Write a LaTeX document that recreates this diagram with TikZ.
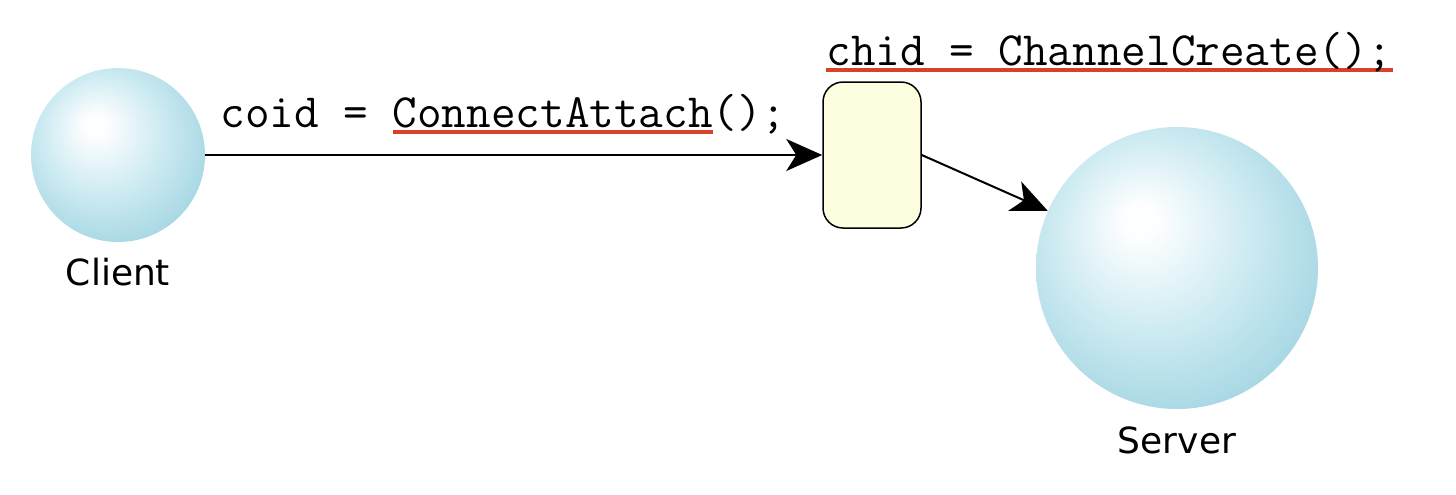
\documentclass[tikz,border=0pt]{standalone}
\usepackage{fontspec}
\setmainfont{DejaVu Sans}
\usetikzlibrary{arrows.meta}
\definecolor{ulred}{HTML}{D9412B}
\definecolor{boxfill}{HTML}{FDFDE0}
\definecolor{ballA}{RGB}{253,254,255}
\definecolor{ballB}{RGB}{206,235,242}
\definecolor{ballC}{RGB}{170,217,229}
\definecolor{ballD}{RGB}{148,204,220}
\definecolor{ballRim}{RGB}{140,199,216}
\pgfdeclareradialshading{sphere}{\pgfpoint{-7bp}{9bp}}{color(0bp)=(ballA); color(3bp)=(ballA); color(17bp)=(ballB); color(29bp)=(ballC); color(38bp)=(ballD); color(50bp)=(ballRim)}
\newsavebox{\ulbox}
\newcommand{\redul}[1]{\sbox{\ulbox}{#1}\rlap{\color{ulred}\rule[-3.6pt]{\wd\ulbox}{2pt}}\usebox{\ulbox}}
\tikzset{
  ball/.style={circle, inner sep=0pt, draw=none, shading=sphere},
  chanbox/.style={draw=black, line width=0.75pt, fill=boxfill, rounded corners=10pt, minimum width=49pt, minimum height=73pt, inner sep=0pt},
  label/.style={font=\fontsize{18pt}{22pt}\selectfont, anchor=base, inner sep=0pt},
  code/.style={font=\ttfamily\fontsize{23.9pt}{27pt}\selectfont, anchor=base west, inner sep=0pt},
  conn/.style={line width=1pt, -{Stealth[length=18pt, width=16pt, inset=5pt]}}
}
\begin{document}
\begin{tikzpicture}[x=0.5pt, y=-0.5pt]
\useasboundingbox (0,0) rectangle (1456,494);
\node[ball, minimum size=87pt] (client) at (118,155) {};
\node[label] (clientlbl) at (118,285) {Client};
\node[ball, minimum size=141pt] (server) at (1177,268) {};
\node[label] (serverlbl) at (1177,453) {Server};
\node[chanbox] (chan) at (872,155) {};
\node[code] (coid) at (220,127) {coid = \redul{ConnectAttach}();};
\node[code] (chid) at (826,65) {\redul{chid = ChannelCreate();}};
\draw[conn] (client.east) -- (chan.west);
\draw[conn] (chan.east) -- (server);
\end{tikzpicture}
\end{document}
